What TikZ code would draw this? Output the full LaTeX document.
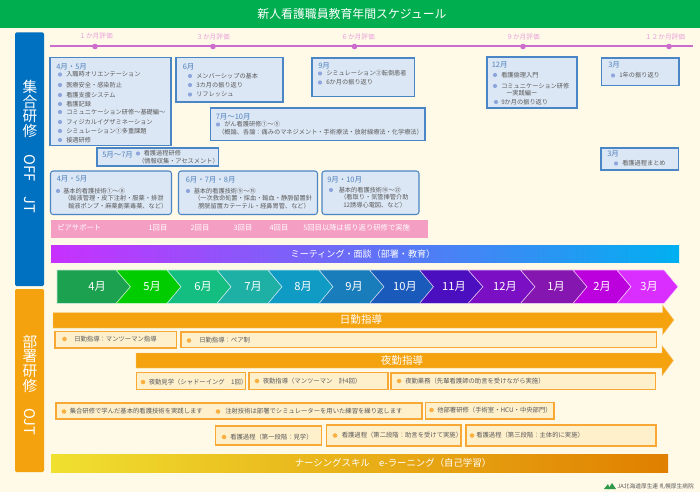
\documentclass[tikz,border=0pt]{standalone}
\usepackage{fontspec}
\setmainfont{Noto Sans CJK JP}
\definecolor{bgc}{HTML}{FFF9E7}
\definecolor{titlec}{HTML}{00AE50}
\definecolor{sideblue}{HTML}{0070C0}
\definecolor{sideor}{HTML}{F4A30F}
\definecolor{tl}{HTML}{CC6CCC}
\definecolor{tltxt}{HTML}{E9A2DC}
\definecolor{bb}{HTML}{4A86C5}
\definecolor{bf}{HTML}{DCE7F5}
\definecolor{mon}{HTML}{4F81BD}
\definecolor{btx}{HTML}{5A5A5A}
\definecolor{bul}{HTML}{8EA6DC}
\definecolor{ob}{HTML}{F9A836}
\definecolor{of}{HTML}{FFF0CC}
\definecolor{obul}{HTML}{F9B040}
\definecolor{peer}{HTML}{F59EC4}
\definecolor{meetl}{HTML}{C830FF}
\definecolor{meetr}{HTML}{00B0F0}
\definecolor{elel}{HTML}{F0E030}
\definecolor{eler}{HTML}{E07F00}
\definecolor{logog}{HTML}{2E9A4A}
\newcounter{tn}
\tikzset{
 txt/.style={anchor=west,inner sep=0pt,text=btx,font=\fontsize{4.65}{5}\selectfont},
 montxt/.style={anchor=west,inner sep=0pt,text=mon,font=\fontsize{5.6}{6}\selectfont},
 ojttxt/.style={anchor=west,inner sep=0pt,text=btx,font=\fontsize{4.75}{5}\selectfont},
 wht/.style={inner sep=0pt,text=white},
 tllab/.style={inner sep=0pt,text=tltxt,font=\fontsize{5}{6}\selectfont},
 sidetxt/.style={inner sep=0pt,text=white,align=center,font=\fontsize{11}{11}\selectfont},
 bluebox/.style={draw=bb,fill=bf,line width=.8pt},
 roundbox/.style={draw=bb,fill=bf,line width=.8pt,rounded corners=2pt},
 orbox/.style={draw=ob,fill=of,line width=.8pt},
 bdot/.style={circle,fill=bul,inner sep=0pt,minimum size=3.1pt},
 odot/.style={circle,fill=obul,inner sep=0pt,minimum size=3.4pt},
 peerlab/.style={wht,font=\fontsize{5.5}{6}\selectfont},
}
% text helpers
\newcommand{\Tx}[4][txt]{\stepcounter{tn}\node[#1] (t\arabic{tn}) at (#2,#3) {#4};}
\newcommand{\Bl}[4]{\stepcounter{tn}\node[bdot] (d\arabic{tn}) at (#1,#3) {};\node[txt] (t\arabic{tn}) at (#2,#3) {#4};}
\newcommand{\Ol}[4]{\stepcounter{tn}\node[odot] (d\arabic{tn}) at (#1,#3) {};\node[ojttxt] (t\arabic{tn}) at (#2,#3) {#4};}
\begin{document}
\begin{tikzpicture}[x=.75pt,y=-.75pt]
\useasboundingbox (0,0) rectangle (700,492);
\fill[bgc] (0,0) rectangle (700,492);
% title
\fill[titlec] (0,0) rectangle (700,28);
\node[wht,font=\fontsize{8.9}{10}\selectfont] (title) at (352,13.5) {新人看護職員教育年間スケジュール};
% side bars
\fill[sideblue,rounded corners=1pt] (15,32.5) rectangle (44,286);
\fill[sideor,rounded corners=1pt] (15,289) rectangle (44,472);
\node[sidetxt] (s1) at (30,109) {集\\合\\研\\修};
\node[sidetxt,rotate=-90] (s2) at (30,168) {OFF};
\node[sidetxt,rotate=-90] (s3) at (30,204.5) {JT};
\node[sidetxt] (s4) at (30,363.5) {部\\署\\研\\修};
\node[sidetxt,rotate=-90] (s5) at (30,421.5) {OJT};
% timeline
\draw[tl,line width=1.5pt] (50,46.5) -- (693,46.5);
\foreach \xx in {95,213,354.5,523,669}{\fill[tl] (\xx,46.5) circle (2.1pt);}
\Tx[tllab]{96}{35.5}{１か月評価}
\Tx[tllab]{213}{37}{３か月評価}
\Tx[tllab]{358}{37}{６か月評価}
\Tx[tllab]{523}{37}{９か月評価}
\Tx[tllab]{665}{37}{１２か月評価}
% OFF JT boxes
\draw[bluebox] (50,57.5) rectangle (171,145.5);
\draw[bluebox] (176,57.5) rectangle (283,102);
\draw[bluebox] (312,58) rectangle (414.5,96.5);
\draw[bluebox] (487,57) rectangle (577,108);
\draw[bluebox] (601.5,58) rectangle (679,85.5);
\draw[bluebox] (210.5,108) rectangle (425,140.5);
\draw[bluebox] (97,148) rectangle (218.5,166);
\draw[bluebox] (601,148) rectangle (678.5,170);
\draw[roundbox] (50.5,171) rectangle (171.5,214.5);
\draw[roundbox] (178.5,171) rectangle (317.5,214.5);
\draw[roundbox] (322,171) rectangle (419,214.5);
% box A
\Tx[montxt]{56}{66.5}{4月・5月}
\Bl{60}{66}{74.5}{入職時オリエンテーション}
\Bl{60}{66}{85}{医療安全・感染防止}
\Bl{60}{66}{95}{看護支援システム}
\Bl{60}{66}{104}{看護記録}
\Bl{60}{66}{112}{コミュニケーション研修～基礎編～}
\Bl{60}{66}{122}{フィジカルイグザミネーション}
\Bl{60}{66}{131}{シミュレーション①多重課題}
\Bl{60}{66}{140}{接遇研修}
% box B
\Tx[montxt]{182.5}{66.5}{6月}
\Bl{190}{196}{76}{メンバーシップの基本}
\Bl{190}{196}{85}{3カ月の振り返り}
\Bl{190}{196}{94.5}{リフレッシュ}
% box C
\Tx[montxt]{318}{65.5}{9月}
\Bl{320}{326}{73.5}{シミュレーション②転倒患者}
\Bl{320}{326}{82.5}{6か月の振り返り}
% box D
\Tx[montxt]{491.5}{65}{12月}
\Bl{495}{501}{75}{看護倫理入門}
\Bl{495}{501}{86}{コミュニケーション研修}
\Tx{506}{93.5}{ー実践編ー}
\Bl{496}{501}{102}{9か月の振り返り}
% box E
\Tx[montxt]{608}{65}{3月}
\Bl{613}{619}{75.5}{1年の振り返り}
% box F
\Tx[montxt]{215.5}{116.5}{7月～10月}
\Bl{218}{224}{124.5}{がん看護研修①～⑤}
\Tx{218}{132.5}{（概論、各論：痛みのマネジメント・手術療法・放射線療法・化学療法）}
% box G
\Tx[montxt]{102}{154.5}{5月～7月}
\Bl{138}{143.5}{153.5}{看護過程研修}
\Tx{138}{161}{（情報収集・アセスメント）}
% box K
\Tx[montxt]{607}{154}{3月}
\Bl{616}{622}{163.5}{看護過程まとめ}
% box H
\Tx[montxt]{56.5}{178.5}{4月・5月}
\Bl{58}{63}{191}{基本的看護技術①～⑧}
\Tx{64}{198.5}{（輸液管理・皮下注射・服薬・排泄}
\Tx{68}{206}{輸液ポンプ・麻薬劇薬毒薬、など）}
% box I
\Tx[montxt]{185.5}{179.5}{6月・7月・8月}
\Bl{188}{193.5}{191}{基本的看護技術⑨～⑮}
\Tx{194}{198.5}{（一次救命処置・採血・輸血・静脈留置針}
\Tx{198}{206}{膀胱留置カテーテル・経鼻胃管、など）}
% box J
\Tx[montxt]{327}{179.5}{9月・10月}
\Bl{331}{338.5}{190}{基本的看護技術⑯～㉒}
\Tx{340}{197.5}{（看取り・気管挿管介助}
\Tx{343}{205}{12誘導心電図、など）}
% peer support
\fill[peer] (51,220) rectangle (428,237.5);
\Tx[peerlab,anchor=west]{57}{228}{ピアサポート}
\Tx[peerlab]{158}{228}{1回目}
\Tx[peerlab]{200}{228}{2回目}
\Tx[peerlab]{243}{228}{3回目}
\Tx[peerlab]{279}{228}{4回目}
\Tx[peerlab,anchor=west]{303}{228}{5回目以降は振り返り研修で実施}
% meeting
\fill[left color=meetl,right color=meetr] (51,245) rectangle (679,262);
\node[wht,font=\fontsize{6.8}{8}\selectfont] (meet) at (363,254) {ミーティング・面談（部署・教育）};
% month chevrons
\def\ct{270} \def\cb{303.5} \def\cm{286.75}
\foreach \xa/\tipa/\xb/\tipb/\cc/\lx/\lb in {
 116/130.5/57/57/1BA14F/97/4月,
 167/181/116/130.5/00CC00/152/5月,
 217/231/167/181/14BD80/203/6月,
 268/282/217/231/1EAFA5/253/7月,
 319/333/268/282/0F9BC4/303/8月,
 369.5/384/319/333/1A7DBB/354/9月,
 419.5/433.5/369.5/384/1A5ABB/405/10月,
 468/483/419.5/433.5/4B0FBF/454/11月,
 520.5/535/468/483/7A0FC4/505/12月,
 573/587/520.5/535/8616B0/556/1月,
 617/631/573/587/BB00DD/602/2月,
 664/678/617/631/D92EFF/649/3月}{
 \definecolor{cv}{HTML}{\cc}
 \fill[cv,draw=white!75!cv,line width=.4pt] (\xb,\ct) -- (\xa,\ct) -- (\tipa,\cm) -- (\xa,\cb) -- (\xb,\cb) -- (\tipb,\cm) -- cycle;
 \node[wht,font=\fontsize{8.4}{9}\selectfont] (m\lx) at (\lx,\cm) {\lb};
}
% day arrow
\fill[sideor,draw=ob!60!white,line width=.3pt] (53,312.5) -- (662.5,312.5) -- (662.5,305) -- (674,320) -- (662.5,335) -- (662.5,328) -- (53,328) -- cycle;
\node[wht,font=\fontsize{7.9}{9}\selectfont] (day) at (361,320) {日勤指導};
% night arrow
\fill[sideor,draw=ob!60!white,line width=.3pt] (136,353) -- (662,353) -- (662,345.5) -- (673.5,360.5) -- (662,376) -- (662,368) -- (136,368) -- cycle;
\node[wht,font=\fontsize{7.9}{9}\selectfont] (night) at (402,360.5) {夜勤指導};
% OJT boxes
\draw[orbox] (55,331.5) rectangle (176.5,348);
\Ol{64.5}{74}{339}{日勤指導：マンツーマン指導}
\draw[orbox] (181,332) rectangle (656.5,347.5);
\Ol{189}{199}{340.5}{日勤指導：ペア制}
\draw[orbox] (136.5,372.5) rectangle (245.5,389.5);
\Ol{143}{148.5}{382}{夜勤見学（シャドーイング　1回）}
\draw[orbox] (249,372.5) rectangle (388,389.5);
\Ol{257}{262.5}{381}{夜勤指導（マンツーマン　計4回）}
\draw[orbox] (391,373) rectangle (655.5,389.5);
\Ol{399}{405}{381}{夜勤業務（先輩看護師の助言を受けながら実施）}
\draw[orbox] (56,403) rectangle (422,419);
\Ol{64}{69.5}{411.5}{集合研修で学んだ基本的看護技術を実践します}
\Ol{218}{225}{411.5}{注射技術は部署でシミュレーターを用いた練習を繰り返します}
\draw[orbox] (425.5,402.5) rectangle (554,419);
\Ol{431.5}{437}{410}{他部署研修（手術室・HCU・中央部門）}
\draw[orbox] (215.5,426) rectangle (321.5,445);
\Ol{224}{230}{437}{看護過程（第一段階：見学）}
\draw[orbox] (326.5,425) rectangle (461,446);
\Ol{335}{341.5}{435.5}{看護過程（第二段階：助言を受けて実施）}
\draw[orbox] (466,425) rectangle (656,446);
\Ol{472}{476}{435.5}{看護過程（第三段階：主体的に実施）}
% e-learning
\fill[left color=elel,right color=eler] (51,454.5) rectangle (668,472.5);
\node[wht,font=\fontsize{7.05}{8}\selectfont] (elearn) at (393,463) {ナーシングスキル　e-ラーニング（自己学習）};
% logo
\fill[logog] (604,489) -- (608,484) -- (610,489) -- cycle;
\fill[logog] (608,489) -- (612,483) -- (616,489) -- cycle;
\node[anchor=west,inner sep=0pt,text=btx,font=\fontsize{4.3}{5}\selectfont] (logo) at (617,486.5) {JA北海道厚生連\ 札幌厚生病院};
\end{tikzpicture}
\end{document}
